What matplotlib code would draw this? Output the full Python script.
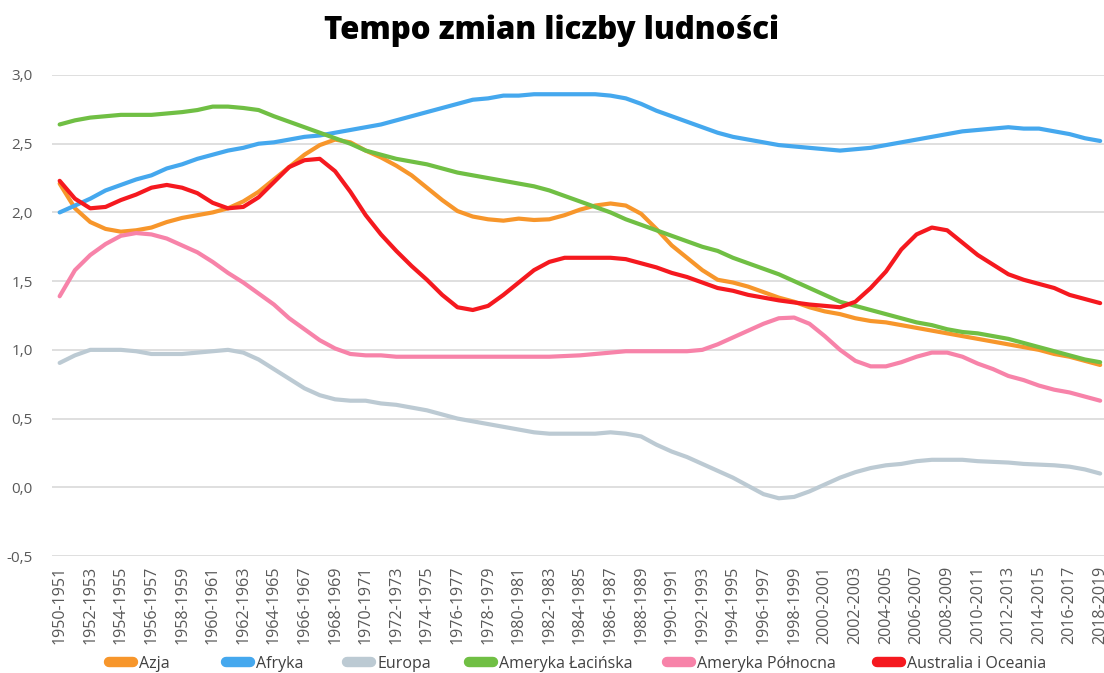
import matplotlib.pyplot as plt
from matplotlib.ticker import FuncFormatter

plt.rcParams['font.family'] = ['Open Sans', 'DejaVu Sans']

# periods 1950-1951 ... 2018-2019
years = list(range(1950, 2019))
periods = [f"{y}-{y + 1}" for y in years]

azja = [2.21, 2.03, 1.93, 1.88, 1.86, 1.87, 1.89, 1.93, 1.96, 1.98,
        2.00, 2.03, 2.08, 2.15, 2.24, 2.33, 2.42, 2.49, 2.53, 2.51,
        2.45, 2.40, 2.34, 2.27, 2.18, 2.09, 2.01, 1.97, 1.95, 1.94,
        1.955, 1.945, 1.95, 1.98, 2.02, 2.05, 2.065, 2.05, 1.99, 1.88,
        1.76, 1.67, 1.58, 1.51, 1.49, 1.46, 1.42, 1.38, 1.35, 1.31,
        1.28, 1.26, 1.23, 1.21, 1.20, 1.18, 1.16, 1.14, 1.12, 1.10,
        1.08, 1.06, 1.04, 1.02, 1.00, 0.97, 0.95, 0.92, 0.89]

afryka = [2.00, 2.05, 2.10, 2.16, 2.20, 2.24, 2.27, 2.32, 2.35, 2.39,
          2.42, 2.45, 2.47, 2.50, 2.51, 2.53, 2.55, 2.56, 2.58, 2.60,
          2.62, 2.64, 2.67, 2.70, 2.73, 2.76, 2.79, 2.82, 2.83, 2.85,
          2.85, 2.86, 2.86, 2.86, 2.86, 2.86, 2.85, 2.83, 2.79, 2.74,
          2.70, 2.66, 2.62, 2.58, 2.55, 2.53, 2.51, 2.49, 2.48, 2.47,
          2.46, 2.45, 2.46, 2.47, 2.49, 2.51, 2.53, 2.55, 2.57, 2.59,
          2.60, 2.61, 2.62, 2.61, 2.61, 2.59, 2.57, 2.54, 2.52]

europa = [0.905, 0.96, 1.00, 1.00, 1.00, 0.99, 0.97, 0.97, 0.97, 0.98,
          0.99, 1.00, 0.98, 0.93, 0.86, 0.79, 0.72, 0.67, 0.64, 0.63,
          0.63, 0.61, 0.60, 0.58, 0.56, 0.53, 0.50, 0.48, 0.46, 0.44,
          0.42, 0.40, 0.39, 0.39, 0.39, 0.39, 0.40, 0.39, 0.37, 0.31,
          0.26, 0.22, 0.17, 0.12, 0.07, 0.01, -0.05, -0.08, -0.07, -0.03,
          0.02, 0.07, 0.11, 0.14, 0.16, 0.17, 0.19, 0.20, 0.20, 0.20,
          0.19, 0.185, 0.18, 0.17, 0.165, 0.16, 0.15, 0.13, 0.10]

ameryka_lac = [2.64, 2.67, 2.69, 2.70, 2.71, 2.71, 2.71, 2.72, 2.73, 2.745,
               2.77, 2.77, 2.76, 2.745, 2.70, 2.66, 2.62, 2.58, 2.54, 2.50,
               2.45, 2.42, 2.39, 2.37, 2.35, 2.32, 2.29, 2.27, 2.25, 2.23,
               2.21, 2.19, 2.16, 2.12, 2.08, 2.04, 2.00, 1.95, 1.91, 1.87,
               1.83, 1.79, 1.75, 1.72, 1.67, 1.63, 1.59, 1.55, 1.50, 1.45,
               1.40, 1.35, 1.32, 1.29, 1.26, 1.23, 1.20, 1.18, 1.15, 1.13,
               1.12, 1.10, 1.08, 1.05, 1.02, 0.99, 0.96, 0.93, 0.91]

ameryka_pn = [1.39, 1.58, 1.69, 1.77, 1.83, 1.85, 1.84, 1.81, 1.76, 1.71,
              1.64, 1.56, 1.49, 1.41, 1.33, 1.23, 1.15, 1.07, 1.01, 0.97,
              0.96, 0.96, 0.95, 0.95, 0.95, 0.95, 0.95, 0.95, 0.95, 0.95,
              0.95, 0.95, 0.95, 0.955, 0.96, 0.97, 0.98, 0.99, 0.99, 0.99,
              0.99, 0.99, 1.00, 1.04, 1.09, 1.14, 1.19, 1.23, 1.235, 1.19,
              1.10, 1.00, 0.92, 0.88, 0.88, 0.91, 0.95, 0.98, 0.98, 0.95,
              0.90, 0.86, 0.81, 0.78, 0.74, 0.71, 0.69, 0.66, 0.63]

australia = [2.23, 2.10, 2.03, 2.04, 2.09, 2.13, 2.18, 2.20, 2.18, 2.14,
             2.07, 2.03, 2.04, 2.11, 2.22, 2.33, 2.38, 2.39, 2.30, 2.15,
             1.98, 1.84, 1.72, 1.61, 1.51, 1.40, 1.31, 1.29, 1.32, 1.40,
             1.49, 1.58, 1.64, 1.67, 1.67, 1.67, 1.67, 1.66, 1.63, 1.60,
             1.56, 1.53, 1.49, 1.45, 1.43, 1.40, 1.38, 1.36, 1.345, 1.33,
             1.32, 1.31, 1.35, 1.45, 1.57, 1.73, 1.84, 1.89, 1.87, 1.78,
             1.69, 1.62, 1.55, 1.51, 1.48, 1.45, 1.40, 1.37, 1.34]

series = [
    ("Azja", azja, "#F7962B"),
    ("Afryka", afryka, "#45A8EE"),
    ("Europa", europa, "#BCCAD3"),
    ("Ameryka Łacińska", ameryka_lac, "#70BF44"),
    ("Ameryka Północna", ameryka_pn, "#F783A9"),
    ("Australia i Oceania", australia, "#F5191F"),
]

# left edge of each legend entry (pixels), like excel's legend grid
leg_x = [109, 226, 347, 469, 667, 877]

fig = plt.figure(figsize=(11.04, 6.73), dpi=100)
ax = fig.add_axes([52 / 1104, 117 / 673, 1052 / 1104, 481 / 673])

x = list(range(len(periods)))
lines = []
for name, vals, col in series:
    ln, = ax.plot(x, vals, color=col, lw=3.0, label=name,
                  solid_joinstyle='round', solid_capstyle='round')
    lines.append(ln)

ax.set_ylim(-0.5, 3.0)
ax.set_yticks([-0.5, 0.0, 0.5, 1.0, 1.5, 2.0, 2.5, 3.0])
ax.yaxis.set_major_formatter(FuncFormatter(lambda v, p: f"{v:.1f}".replace(".", ",")))
ax.set_xlim(-0.5, 68.25)
ax.set_xticks(x[::2])
ax.set_xticklabels(periods[::2], rotation=90)

ax.grid(axis='y', color='#D9D9D9', lw=1.2)
ax.set_axisbelow(True)
for s in ax.spines.values():
    s.set_visible(False)
ax.tick_params(axis='y', length=0, pad=14, labelsize=11, labelcolor='#595959')
ax.tick_params(axis='x', length=0, pad=7, labelsize=11.6, labelcolor='#595959')

fig.suptitle("Tempo zmian liczby ludności", x=0.5, y=0.978, fontsize=22.5,
             fontweight='heavy', color='black')

for ln, lx in zip(lines, leg_x):
    leg = fig.legend([ln], [ln.get_label()], loc='center left',
                     bbox_to_anchor=(lx / 1104, 9 / 673), frameon=False,
                     fontsize=11.5, handlelength=1.5, handletextpad=0.4,
                     borderpad=0, borderaxespad=0)
    for h in leg.get_lines():
        h.set_linewidth(7.5)
        h.set_solid_capstyle('round')
    for t in leg.get_texts():
        t.set_color('#404040')

fig.savefig("out.png", dpi=100)
